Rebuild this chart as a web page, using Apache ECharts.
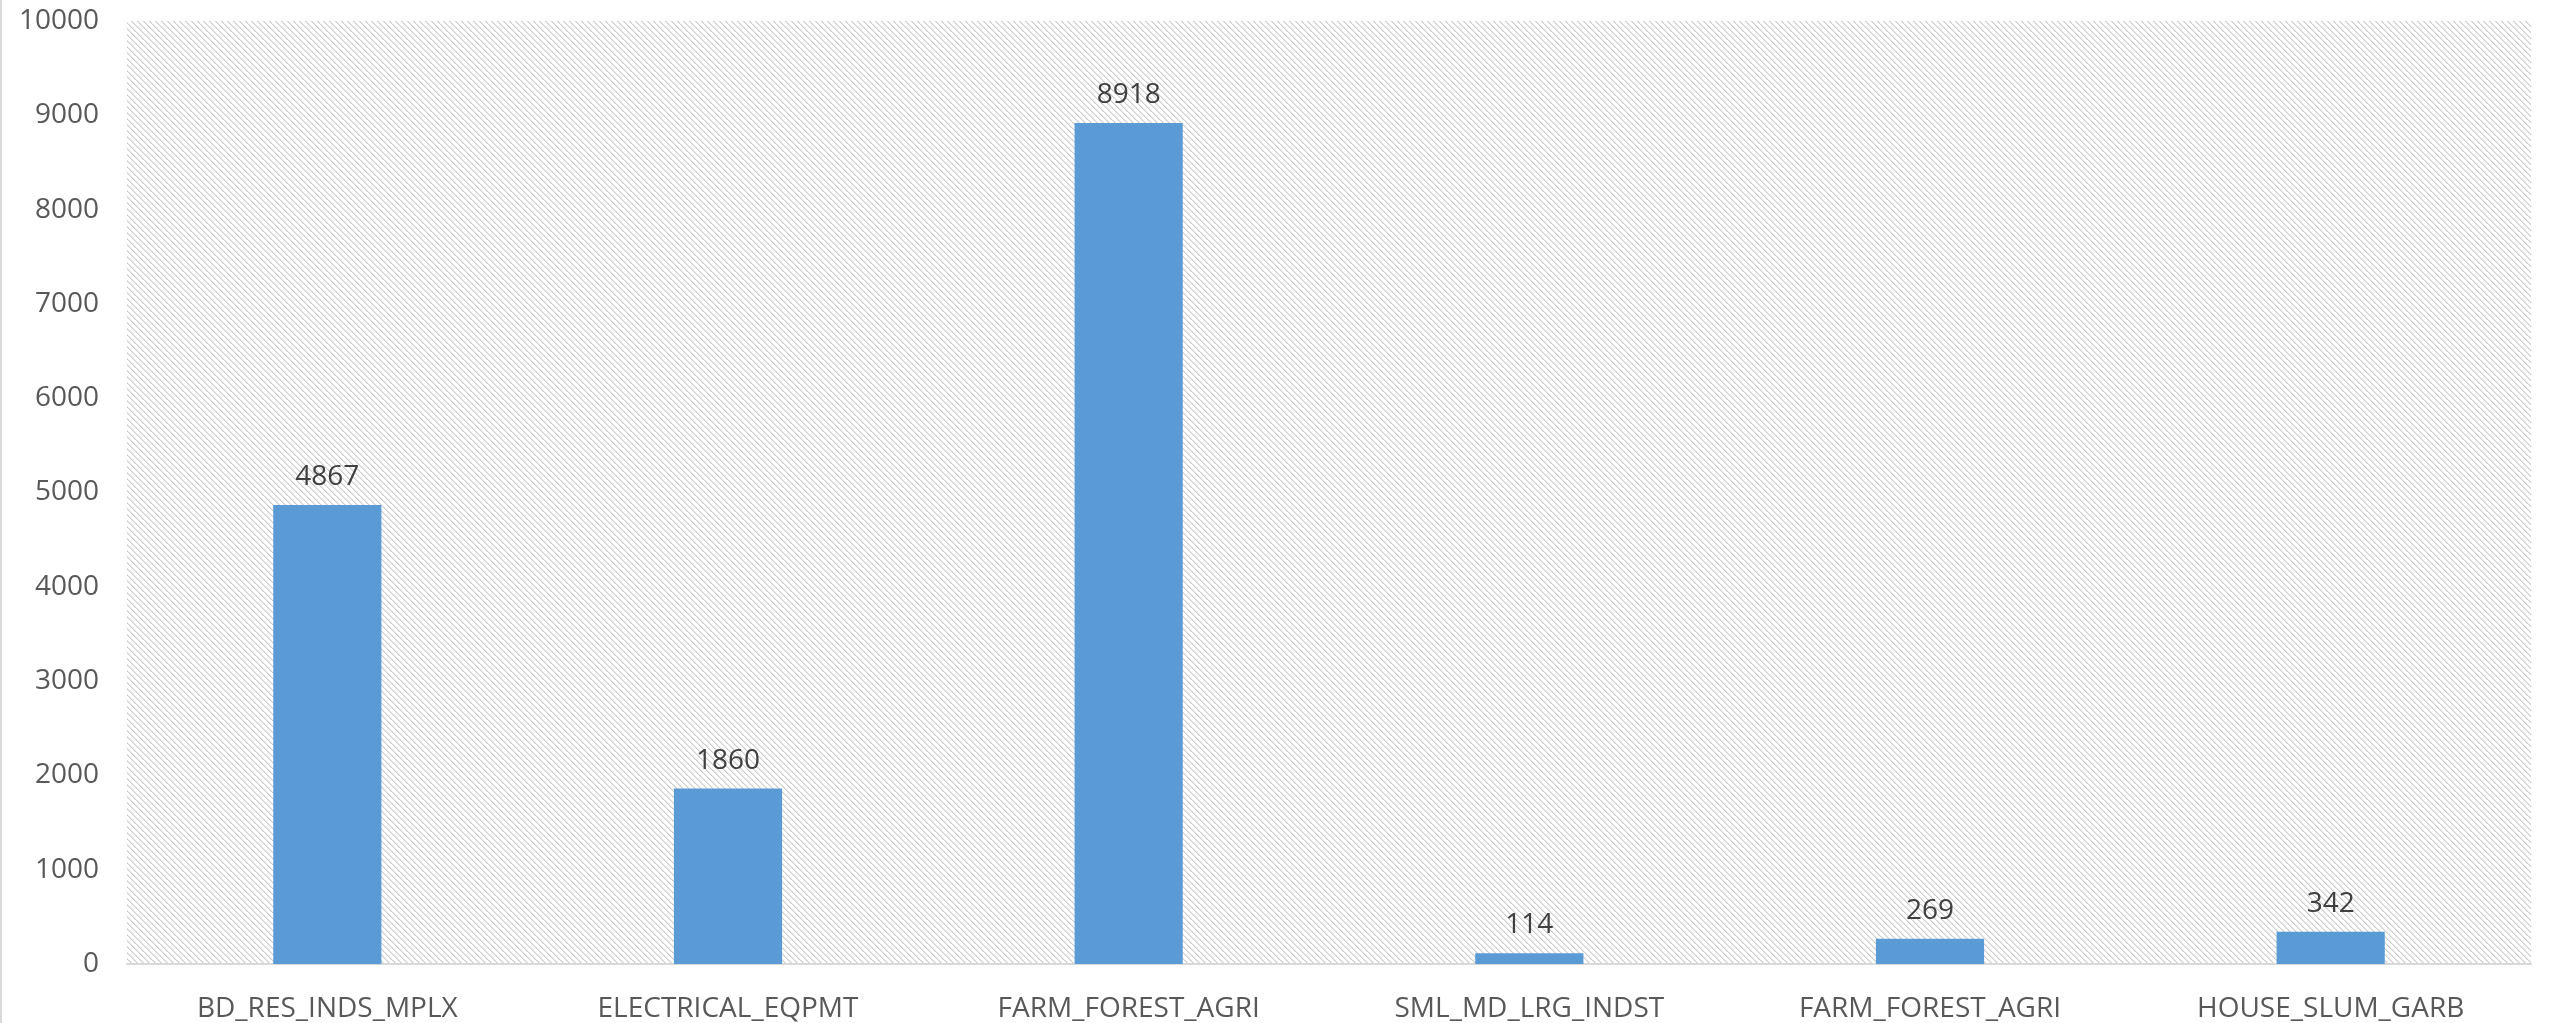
<!DOCTYPE html>
<html><head><meta charset="utf-8">
<style>html,body{margin:0;padding:0;background:#fff}#c{width:2552px;height:1023px;box-sizing:border-box;border-left:2px solid #d9d9d9}</style>
<script src="https://cdn.jsdelivr.net/npm/echarts@6/dist/echarts.min.js"></script>
</head><body><div id="c"></div>
<script>
var categories = ['BD_RES_INDS_MPLX','ELECTRICAL_EQPMT','FARM_FOREST_AGRI','SML_MD_LRG_INDST','FARM_FOREST_AGRI','HOUSE_SLUM_GARB'];
var values = [4867, 1860, 8918, 114, 269, 342];
var yTicks = [0,1000,2000,3000,4000,5000,6000,7000,8000,9000,10000];

var tile = document.createElement('canvas');
tile.width = 6; tile.height = 6;
var g = tile.getContext('2d');
g.fillStyle = '#ffffff'; g.fillRect(0,0,6,6);
g.fillStyle = '#cccccc';
for (var i = 0; i < 6; i++) { g.fillRect(i, i, 1, 1); }
g.fillStyle = '#e6e6e6';
for (var i = 0; i < 6; i++) { g.fillRect((i+1)%6, i, 1, 1); }

var chart = echarts.init(document.getElementById('c'));
chart.setOption({
  animation: false,
  textStyle: {fontFamily: 'Open Sans'},
  grid: {left: 125, right: 21, top: 21, bottom: 59, show: true, borderWidth: 0,
         backgroundColor: {image: tile, repeat: 'repeat'}},
  xAxis: {type: 'category', data: categories,
    axisLine: {lineStyle: {color: '#d9d9d9', width: 2}},
    axisTick: {show: false},
    axisLabel: {color: '#595959', fontSize: 28, margin: 31, interval: 0}},
  yAxis: {type: 'value', min: yTicks[0], max: yTicks[yTicks.length-1], interval: 1000,
    axisLine: {show: false}, axisTick: {show: false}, splitLine: {show: false},
    axisLabel: {color: '#595959', fontSize: 28, margin: 28, formatter: function (v) { return String(v); }}},
  series: [{type: 'bar', data: values, barWidth: '27%',
    itemStyle: {color: '#5B9BD5'},
    label: {show: true, position: 'top', distance: 14, color: '#404040', fontSize: 28}}]
});
</script></body></html>
